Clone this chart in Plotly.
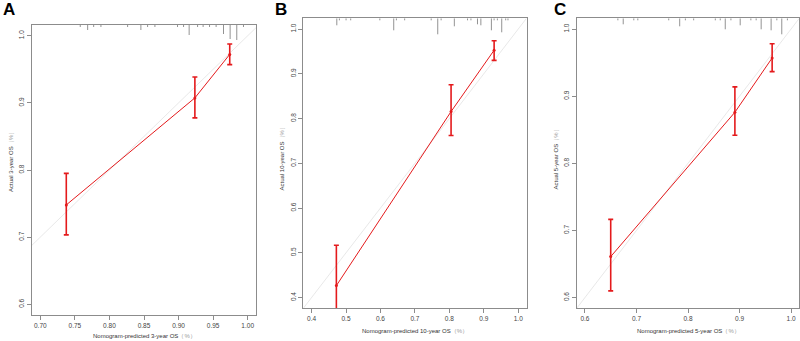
import plotly.graph_objects as go

W, H = 800, 341

# ---------------- data ----------------
# Panel A: 3-year OS
a_pred = [0.7376, 0.9236, 0.9740]
a_obs = [0.7480, 0.9074, 0.9722]
a_hi = [0.7950, 0.9386, 0.9877]
a_lo = [0.7034, 0.8777, 0.9570]
a_rug_x = [0.7578, 0.7685, 0.7772, 0.7877, 0.8263, 0.8455, 0.8552, 0.8658, 0.8985, 0.9072,
           0.9153, 0.9275, 0.9355, 0.9448, 0.9543, 0.9650, 0.9746, 0.9842, 0.9939]
a_rug_n = [1, 2.5, 1, 1, 1, 2.5, 1, 1, 1, 1, 5, 1, 1, 1, 1, 4.5, 7, 7.5, 1]

# Panel B: 10-year OS
b_pred = [0.4720, 0.8050, 0.9300]
b_obs = [0.4267, 0.8156, 0.9527]
b_hi = [0.5170, 0.8756, 0.9740]
b_lo = [0.3350, 0.7622, 0.9300]
b_rug_x = [0.4733, 0.4808, 0.5001, 0.5136, 0.5982, 0.6385, 0.6463, 0.6703, 0.7473, 0.7663,
           0.7761, 0.8145, 0.8528, 0.8627, 0.8817, 0.8915, 0.9221, 0.9299, 0.9394, 0.9521,
           0.9636, 0.9702]
b_rug_n = [3.5, 1, 1, 1, 1, 6, 1, 1, 1, 8, 1, 4, 1, 1, 3, 3.5, 6, 1, 1, 7, 1, 1]

# Panel C: 5-year OS
c_pred = [0.6500, 0.8910, 0.9633]
c_obs = [0.6610, 0.8760, 0.9569]
c_hi = [0.7164, 0.9139, 0.9780]
c_lo = [0.6100, 0.8418, 0.9365]
c_rug_x = [0.6639, 0.6743, 0.6948, 0.7026, 0.7626, 0.7839, 0.7949, 0.8110, 0.8530, 0.8626,
           0.8723, 0.8833, 0.9013, 0.9220, 0.9323, 0.9420, 0.9613, 0.9724, 0.9820, 0.9929]
c_rug_n = [1, 3, 1, 1, 1, 4, 1, 1, 1, 1, 5.5, 1, 3.5, 1, 1, 5.5, 6, 1, 8, 1]

a_xticks = [0.70, 0.75, 0.80, 0.85, 0.90, 0.95, 1.00]
a_xticklabels = ["0.70", "0.75", "0.80", "0.85", "0.90", "0.95", "1.00"]
a_yticks = [0.6, 0.7, 0.8, 0.9, 1.0]
b_ticks = [0.4, 0.5, 0.6, 0.7, 0.8, 0.9, 1.0]
c_ticks = [0.6, 0.7, 0.8, 0.9, 1.0]

a_xtitle = "Nomogram-predicted 3-year OS"
a_ytitle = "Actual 3-year OS"
b_xtitle = "Nomogram-predicted 10-year OS"
b_ytitle = "Actual 10-year OS"
c_xtitle = "Nomogram-predicted 5-year OS"
c_ytitle = "Actual 5-year OS"
unit = "（%）"

# ---------------- layout (pixels) ----------------
panels = [
    dict(key="", letter="A", pred=a_pred, obs=a_obs, hi=a_hi, lo=a_lo, rx=a_rug_x, rn=a_rug_n,
         xr=[0.688, 1.012], yr=[0.584, 1.016], xt=a_xticks, xtl=a_xticklabels, yt=a_yticks,
         box=(32, 256, 25, 315), xtitle=a_xtitle, ytitle=a_ytitle,
         xtpos=(144, 336), ytpos=(11, 161), lpos=(8.5, 10)),
    dict(key="2", letter="B", pred=b_pred, obs=b_obs, hi=b_hi, lo=b_lo, rx=b_rug_x, rn=b_rug_n,
         xr=[0.376, 1.024], yr=[0.376, 1.024], xt=b_ticks, xtl=None, yt=b_ticks,
         box=(303.3, 526.5, 18.3, 308.3), xtitle=b_xtitle, ytitle=b_ytitle,
         xtpos=(415, 331), ytpos=(281.5, 158), lpos=(281, 10)),
    dict(key="3", letter="C", pred=c_pred, obs=c_obs, hi=c_hi, lo=c_lo, rx=c_rug_x, rn=c_rug_n,
         xr=[0.584, 1.016], yr=[0.584, 1.016], xt=c_ticks, xtl=None, yt=c_ticks,
         box=(576.7, 799.3, 18.3, 308.3), xtitle=c_xtitle, ytitle=c_ytitle,
         xtpos=(688, 331), ytpos=(555.5, 158), lpos=(560, 10)),
]

RED = "#e41a1c"
GRID = "#8c8c8c"
TXT = "#444444"
FONT = "Liberation Sans, Arial, sans-serif"
RUG_PX = 2.0

fig = go.Figure()
annotations = []
for p in panels:
    k = p["key"]
    xa, ya = "x" + k, "y" + k
    l, r, t, b = p["box"]
    ppu_y = (b - t) / (p["yr"][1] - p["yr"][0])

    # ideal line
    fig.add_trace(go.Scatter(x=p["xr"], y=p["xr"], mode="lines", xaxis=xa, yaxis=ya,
                             line=dict(color="#e2e2e2", width=0.8), showlegend=False,
                             hoverinfo="skip"))
    # rug
    rx, ry = [], []
    top = p["yr"][1]
    for xv, n in zip(p["rx"], p["rn"]):
        rx += [xv, xv, None]
        ry += [top, top - n * RUG_PX / ppu_y, None]
    fig.add_trace(go.Scatter(x=rx, y=ry, mode="lines", xaxis=xa, yaxis=ya,
                             line=dict(color="#777777", width=0.8), showlegend=False,
                             hoverinfo="skip"))
    # calibration line with error bars
    fig.add_trace(go.Scatter(
        x=p["pred"], y=p["obs"], mode="lines+markers", xaxis=xa, yaxis=ya,
        line=dict(color=RED, width=1), marker=dict(color=RED, size=3),
        error_y=dict(type="data", symmetric=False,
                     array=[h - o for h, o in zip(p["hi"], p["obs"])],
                     arrayminus=[o - lo for o, lo in zip(p["obs"], p["lo"])],
                     color=RED, thickness=1.6, width=2.5),
        showlegend=False))

    axcommon = dict(showgrid=False, zeroline=False, showline=True, mirror=True,
                    linecolor=GRID, linewidth=1, ticks="outside", ticklen=4,
                    tickcolor=GRID, tickwidth=1, automargin=False,
                    tickfont=dict(size=6.5, color=TXT, family=FONT))
    xtl = p["xtl"] if p["xtl"] is not None else ["%.1f" % v for v in p["xt"]]
    xlay = dict(axcommon, domain=[l / W, r / W], range=p["xr"], tickvals=p["xt"],
                ticktext=xtl, anchor=ya)
    ylay = dict(axcommon, domain=[1 - b / H, 1 - t / H], range=p["yr"], tickvals=p["yt"],
                ticktext=["%.1f" % v for v in p["yt"]], tickangle=-90, anchor=xa)
    fig.update_layout(**{"xaxis" + k: xlay, "yaxis" + k: ylay})

    title_txt = lambda s: s + '<span style="color:#9a9a9a">' + unit + "</span>"
    annotations.append(dict(text=title_txt(p["xtitle"]), xref="paper", yref="paper",
                            x=p["xtpos"][0] / W, y=1 - p["xtpos"][1] / H,
                            xanchor="center", yanchor="middle", showarrow=False,
                            font=dict(size=6, color="#333333", family=FONT)))
    annotations.append(dict(text=title_txt(p["ytitle"]), xref="paper", yref="paper",
                            x=p["ytpos"][0] / W, y=1 - p["ytpos"][1] / H, textangle=-90,
                            xanchor="center", yanchor="middle", showarrow=False,
                            font=dict(size=6, color="#333333", family=FONT)))
    annotations.append(dict(text="<b>" + p["letter"] + "</b>", xref="paper", yref="paper",
                            x=p["lpos"][0] / W, y=1 - p["lpos"][1] / H,
                            xanchor="center", yanchor="middle", showarrow=False,
                            font=dict(size=17, color="#000000", family=FONT)))

fig.update_layout(width=W, height=H, margin=dict(l=0, r=0, t=0, b=0, autoexpand=False),
                  paper_bgcolor="white", plot_bgcolor="white",
                  annotations=annotations, font=dict(family=FONT))
fig.write_html("out.html", config={"displayModeBar": False},
               post_script="document.body.style.margin='0';document.body.style.overflow='hidden';")
